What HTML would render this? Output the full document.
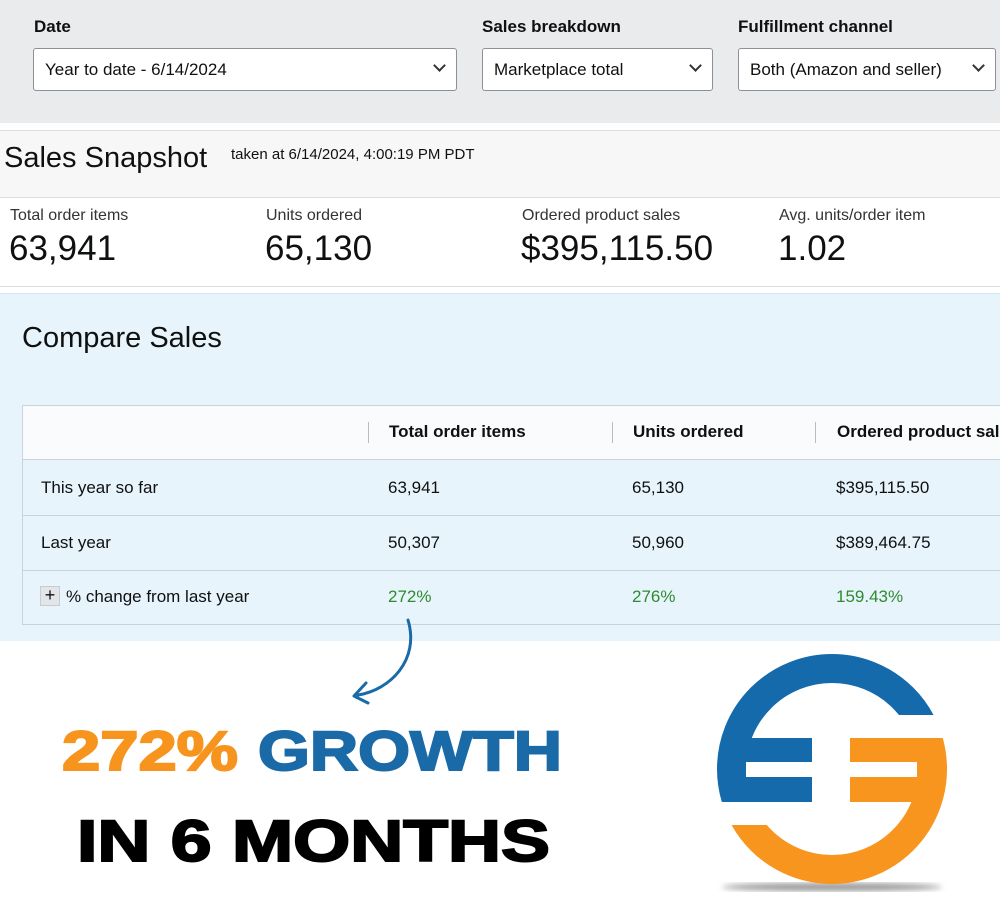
<!DOCTYPE html>
<html><head><meta charset="utf-8"><style>
*{margin:0;padding:0;box-sizing:border-box}
body{width:1000px;height:900px;overflow:hidden;background:#fff;font-family:"Liberation Sans",sans-serif;color:#0f1111;position:relative}
.a{position:absolute;white-space:nowrap}
.sel{position:absolute;top:48px;height:43px;background:#fff;border:1px solid #8d9096;border-radius:3px;font-size:17px;padding:11px 11px;color:#0f1111}
.sel .chev{position:absolute;right:12px;top:12px;width:9px;height:9px;border-right:2px solid #333;border-bottom:2px solid #333;transform:rotate(45deg)}
.lab{font-size:17px;font-weight:bold;top:17px}
.ml{font-size:16px;top:207px;color:#333}
.mv{font-size:35px;top:229px;color:#0f1111}
.cell{position:absolute;font-size:17px;color:#0f1111}
</style></head><body>
<div class="a" style="left:0;top:0;width:1000px;height:123px;background:#e9ebed"></div>
<div class="a lab" style="left:34px">Date</div>
<div class="a lab" style="left:482px">Sales breakdown</div>
<div class="a lab" style="left:738px">Fulfillment channel</div>
<div class="sel" style="left:33px;width:424px">Year to date - 6/14/2024<span class="chev"></span></div>
<div class="sel" style="left:482px;width:231px">Marketplace total<span class="chev"></span></div>
<div class="sel" style="left:738px;width:258px">Both (Amazon and seller)<span class="chev"></span></div>

<div class="a" style="left:0;top:130px;width:1000px;height:68px;background:#f7f7f7;border-top:1px solid #ddd;border-bottom:1px solid #ddd"></div>
<div class="a" style="left:4px;top:142px;font-size:29px">Sales Snapshot</div>
<div class="a" style="left:231px;top:146px;font-size:15px">taken at 6/14/2024, 4:00:19 PM PDT</div>
<div class="a ml" style="left:10px">Total order items</div>
<div class="a mv" style="left:9px">63,941</div>
<div class="a ml" style="left:266px">Units ordered</div>
<div class="a mv" style="left:265px">65,130</div>
<div class="a ml" style="left:522px">Ordered product sales</div>
<div class="a mv" style="left:521px">$395,115.50</div>
<div class="a ml" style="left:779px">Avg. units/order item</div>
<div class="a mv" style="left:778px">1.02</div>
<div class="a" style="left:0;top:286px;width:1000px;height:1px;background:#ddd"></div>

<div class="a" style="left:0;top:293px;width:1000px;height:348px;background:#e8f4fc;border-top:1px solid #d5e3ee"></div>
<div class="a" style="left:22px;top:322px;font-size:29px">Compare Sales</div>
<div class="a" style="left:22px;top:405px;width:990px;height:220px;border:1px solid #c9d3da;background:#e8f4fc">
 <div class="a" style="left:0;top:0;width:990px;height:54px;background:#f9fbfc;border-bottom:1px solid #c9d3da"></div>
 <div class="a" style="left:0;top:109px;width:990px;height:1px;background:#c9d3da"></div>
 <div class="a" style="left:0;top:164px;width:990px;height:1px;background:#c9d3da"></div>
 <div class="a" style="left:345px;top:16px;width:1px;height:21px;background:#bbb"></div>
 <div class="a" style="left:589px;top:16px;width:1px;height:21px;background:#bbb"></div>
 <div class="a" style="left:792px;top:16px;width:1px;height:21px;background:#bbb"></div>
</div>
<div class="cell" style="left:389px;top:422px;font-weight:bold">Total order items</div>
<div class="cell" style="left:633px;top:422px;font-weight:bold">Units ordered</div>
<div class="cell" style="left:837px;top:422px;font-weight:bold;white-space:nowrap">Ordered product sales</div>
<div class="cell" style="left:41px;top:478px">This year so far</div>
<div class="cell" style="left:388px;top:478px">63,941</div>
<div class="cell" style="left:632px;top:478px">65,130</div>
<div class="cell" style="left:836px;top:478px">$395,115.50</div>
<div class="cell" style="left:41px;top:533px">Last year</div>
<div class="cell" style="left:388px;top:533px">50,307</div>
<div class="cell" style="left:632px;top:533px">50,960</div>
<div class="cell" style="left:836px;top:533px">$389,464.75</div>
<div class="a" style="left:40px;top:586px;width:20px;height:20px;background:#e3e6e8;border:1px solid #c9cccf;text-align:center;font-size:18px;line-height:17px">+</div>
<div class="cell" style="left:66px;top:587px">% change from last year</div>
<div class="cell" style="left:388px;top:587px;color:#2e8b2e">272%</div>
<div class="cell" style="left:632px;top:587px;color:#2e8b2e">276%</div>
<div class="cell" style="left:836px;top:587px;color:#2e8b2e">159.43%</div>

<svg class="a" style="left:0;top:0" width="1000" height="900">
 <defs>
  <clipPath id="cb"><polygon points="700,640 1000,640 1000,715 832,715 832,802 700,802"/></clipPath>
  <clipPath id="co"><polygon points="832,738 1000,738 1000,900 700,900 700,825 832,825"/></clipPath>
  <filter id="bl"><feGaussianBlur stdDeviation="3"/></filter>
 </defs>
 <path d="M408,620 C420,660 390,690 358,695" fill="none" stroke="#1a6aa8" stroke-width="3" stroke-linecap="round"/>
 <path d="M366,683 L354,696 L368,703" fill="none" stroke="#1a6aa8" stroke-width="3" stroke-linecap="round" stroke-linejoin="round"/>
 <text x="62" y="770" font-family="Liberation Sans" font-weight="bold" font-size="56" fill="#f7941d" stroke="#f7941d" stroke-width="2" textLength="176" lengthAdjust="spacingAndGlyphs">272%</text>
 <text x="258" y="770" font-family="Liberation Sans" font-weight="bold" font-size="56" fill="#1a6aa8" stroke="#1a6aa8" stroke-width="2" textLength="304" lengthAdjust="spacingAndGlyphs">GROWTH</text>
 <text x="77" y="861" font-family="Liberation Sans" font-weight="bold" font-size="58" fill="#000" stroke="#000" stroke-width="2" textLength="473" lengthAdjust="spacingAndGlyphs">IN 6 MONTHS</text>
 <g>
  <ellipse cx="832" cy="887" rx="110" ry="4" fill="#999" filter="url(#bl)"/>
  <circle cx="832" cy="769" r="100.5" fill="none" stroke="#156aac" stroke-width="29" clip-path="url(#cb)"/>
  <circle cx="832" cy="769" r="100.5" fill="none" stroke="#f7951f" stroke-width="29" clip-path="url(#co)"/>
  <rect x="746" y="738" width="66" height="64" fill="#156aac"/>
  <rect x="746" y="762" width="66" height="15" fill="#fff"/>
  <rect x="850" y="738" width="68" height="64" fill="#f7951f"/>
  <rect x="850" y="762" width="67" height="15" fill="#fff"/>
 </g>
</svg>
</body></html>
